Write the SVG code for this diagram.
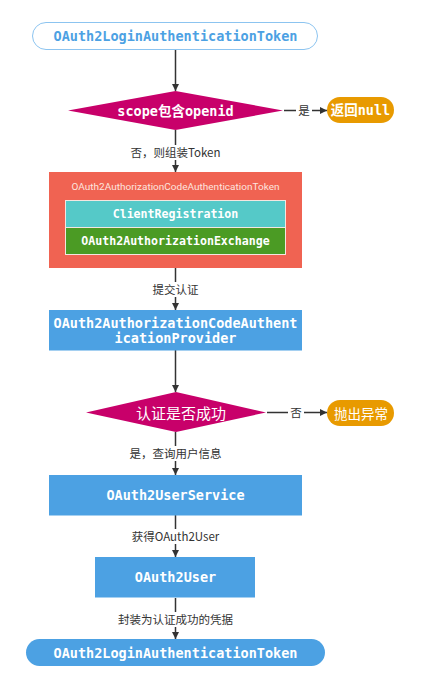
<svg xmlns="http://www.w3.org/2000/svg" width="424" height="685" viewBox="0 0 424 685">
<defs>
<marker id="arr" markerWidth="8" markerHeight="8" refX="7" refY="4" orient="auto" markerUnits="userSpaceOnUse">
<path d="M0,0.5 L7,4 L0,7.5 Z" fill="#333"/>
</marker>
<style>
.mono{font-family:"DejaVu Sans Mono","Liberation Mono","Noto Sans CJK SC",monospace;font-weight:bold;font-size:13.5px;fill:#fff;text-anchor:middle;dominant-baseline:central}
.cjk{font-family:"Noto Sans CJK SC","Noto Sans",sans-serif;fill:#fff;text-anchor:middle;dominant-baseline:central}
.lbl{font-family:"Noto Sans CJK SC","Noto Sans",sans-serif;font-size:11.5px;fill:#333;text-anchor:middle;dominant-baseline:central}
.edge{stroke:#333;stroke-width:1.5;fill:none;marker-end:url(#arr)}
.blue{fill:#4ca1e3}
.orange{fill:#e89a00}
.mag{fill:#c8006a}
</style>
</defs>
<rect width="424" height="685" fill="#fff"/>

<g id="connectors">
<line class="edge" x1="175.5" y1="49" x2="175.5" y2="91"/>
<line class="edge" x1="284" y1="110.5" x2="327" y2="110.5"/>
<line class="edge" x1="175.5" y1="130" x2="175.5" y2="172"/>
<line class="edge" x1="175.5" y1="268" x2="175.5" y2="310"/>
<line class="edge" x1="175.5" y1="350" x2="175.5" y2="392"/>
<line class="edge" x1="267" y1="412.5" x2="327" y2="412.5"/>
<line class="edge" x1="175.5" y1="432" x2="175.5" y2="475"/>
<line class="edge" x1="175.5" y1="515" x2="175.5" y2="557"/>
<line class="edge" x1="175.5" y1="598" x2="175.5" y2="639"/>
<g>
<rect x="296" y="103" width="16" height="15" fill="#fff"/>
<text class="lbl" x="304" y="110">是</text>
<rect x="128" y="145" width="95" height="15" fill="#fff"/>
<text class="lbl" x="175.5" y="152">否，则组装Token</text>
<rect x="150" y="282" width="51" height="15" fill="#fff"/>
<text class="lbl" x="175.5" y="289">提交认证</text>
<rect x="288" y="405" width="16" height="15" fill="#fff"/>
<text class="lbl" x="296" y="412">否</text>
<rect x="128" y="446" width="96" height="15" fill="#fff"/>
<text class="lbl" x="175.5" y="453">是，查询用户信息</text>
<rect x="130" y="529" width="91" height="15" fill="#fff"/>
<text class="lbl" x="175.5" y="536">获得OAuth2User</text>
<rect x="116" y="612" width="120" height="15" fill="#fff"/>
<text class="lbl" x="175.5" y="619">封装为认证成功的凭据</text>
</g>
</g>

<g id="start">
<rect x="32.5" y="22.5" width="285" height="27" rx="13.5" fill="#fff" stroke="#8cc4f0" stroke-width="1"/>
<text class="mono" x="175.5" y="36" style="fill:#4ca1e3">OAuth2LoginAuthenticationToken</text>
</g>

<g id="decision-scope">
<polygon class="mag" points="68,110.5 175.5,91 283,110.5 175.5,130"/>
<text class="mono" x="175.5" y="110.5">scope包含openid</text>
</g>

<g id="return-null">
<rect class="orange" x="327" y="97" width="67" height="26" rx="13"/>
<text class="mono" x="360.5" y="110">返回null</text>
</g>

<g id="code-token">
<rect x="49" y="172" width="253" height="96" fill="#f06352"/>
<text x="175.5" y="186" text-anchor="middle" dominant-baseline="central" font-family="Roboto,'Liberation Sans',sans-serif" font-size="9.5" fill="#fde3df" textLength="208" lengthAdjust="spacingAndGlyphs">OAuth2AuthorizationCodeAuthenticationToken</text>
<g id="client-registration">
<rect x="65.5" y="200.5" width="220" height="27" fill="#55c9c8" stroke="#f4e6e0" stroke-width="1"/>
<text class="mono" x="175.5" y="213.5" style="font-size:11.6px">ClientRegistration</text>
</g>
<g id="auth-exchange">
<rect x="65.5" y="227.5" width="220" height="27" fill="#4b9b24" stroke="#f4e6e0" stroke-width="1"/>
<text class="mono" x="175.5" y="241" style="font-size:11.6px">OAuth2AuthorizationExchange</text>
</g>
</g>

<g id="provider">
<rect class="blue" x="49" y="310" width="253" height="40.5"/>
<text class="mono" x="175.5" y="322.5">OAuth2AuthorizationCodeAuthent</text>
<text class="mono" x="175.5" y="338">icationProvider</text>
</g>

<g id="decision-auth">
<polygon class="mag" points="86,412.5 176,392 266,412.5 176,432"/>
<text class="cjk" x="181" y="412" font-size="15">认证是否成功</text>
</g>

<g id="throw">
<rect class="orange" x="327" y="400" width="67" height="26" rx="13"/>
<text class="cjk" x="361" y="412.5" font-size="13.5">抛出异常</text>
</g>

<g id="user-service">
<rect class="blue" x="49" y="475" width="253" height="40.5"/>
<text class="mono" x="175.5" y="495">OAuth2UserService</text>
</g>

<g id="oauth2user">
<rect class="blue" x="95" y="557" width="160" height="40.5"/>
<text class="mono" x="175.5" y="577">OAuth2User</text>
</g>

<g id="end">
<rect class="blue" x="26" y="639" width="299" height="27" rx="13.5"/>
<text class="mono" x="175.5" y="652.5">OAuth2LoginAuthenticationToken</text>
</g>
</svg>
